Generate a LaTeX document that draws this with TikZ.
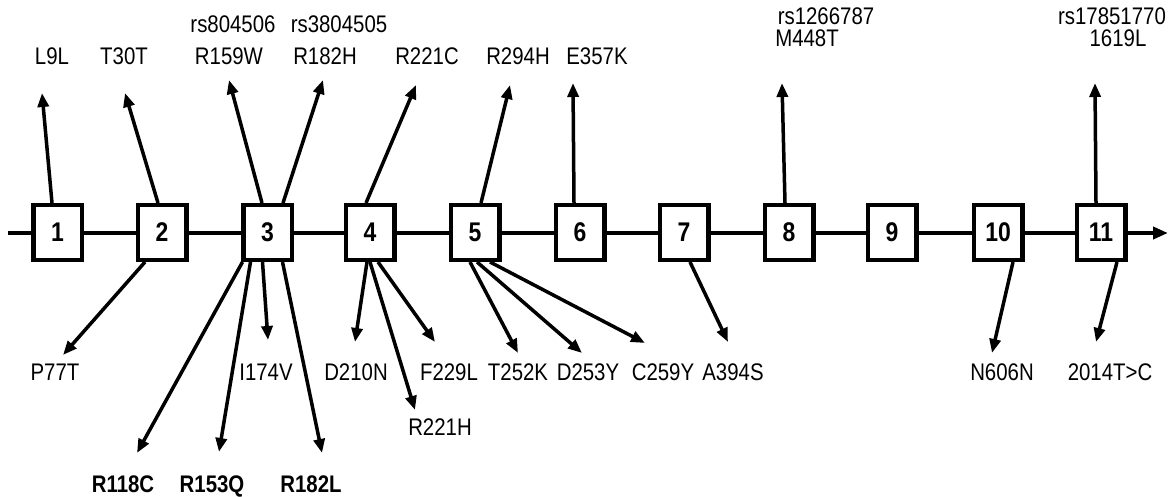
\documentclass[tikz,border=0pt]{standalone}
\usepackage{fontspec}
\setmainfont{Liberation Sans}[FakeStretch=0.85]
\usetikzlibrary{arrows.meta}
\begin{document}
\begin{tikzpicture}[x=1pt,y=-1pt,
  box/.style={draw,line width=4.5pt,fill=white,minimum width=48.5pt,minimum height=54.5pt,inner sep=0pt,font=\fontsize{27}{30}\selectfont\bfseries},
  lab/.style={anchor=base,inner sep=0pt,font=\fontsize{24}{28}\selectfont},
  blab/.style={anchor=base,inner sep=0pt,font=\fontsize{24}{28}\selectfont\bfseries},
  conn/.style={line width=3.5pt,-{Triangle[length=14pt,width=11pt]}},
  mainline/.style={line width=4pt,-{Triangle[length=15pt,width=12pt]}}]
\useasboundingbox (0,0) rectangle (1172,497);
% main line
\coordinate (ls) at (8,233);
\coordinate (le) at (1168,233);
\draw[mainline] (ls) -- (le);
% boxes
\node[box] (b1) at (57.5,232.5) {1};
\node[box] (b2) at (162,232.5) {2};
\node[box] (b3) at (267.5,232.5) {3};
\node[box] (b4) at (370,232.5) {4};
\node[box] (b5) at (475,232.5) {5};
\node[box] (b6) at (580,232.5) {6};
\node[box] (b7) at (684,232.5) {7};
\node[box] (b8) at (789,232.5) {8};
\node[box] (b9) at (892,232.5) {9};
\node[box] (b10) at (998,232.5) {10};
\node[box] (b11) at (1101,232.5) {11};
% top tips
\coordinate (t1) at (42,93);
\coordinate (t2) at (125,93);
\coordinate (t3a) at (229,80);
\coordinate (t3b) at (323,80);
\coordinate (t4) at (416,85);
\coordinate (t5) at (510,85);
\coordinate (t6) at (573,83);
\coordinate (t8) at (782,83);
\coordinate (t11) at (1095,83);
% bottom tips
\coordinate (p2) at (63,355);
\coordinate (p3a) at (137,453);
\coordinate (p3b) at (219,452);
\coordinate (p3c) at (268,340);
\coordinate (p3d) at (322,453);
\coordinate (p4a) at (355,342);
\coordinate (p4b) at (415,410);
\coordinate (p4c) at (435,342);
\coordinate (p5a) at (518,353);
\coordinate (p5b) at (582,353);
\coordinate (p5c) at (645,343);
\coordinate (p7) at (728,342);
\coordinate (p10) at (992,353);
\coordinate (p11) at (1096,342);
% top connectors
\draw[conn] ([xshift=-5.5pt]b1.north) -- (t1);
\draw[conn] ([xshift=-4pt]b2.north) -- (t2);
\draw[conn] ([xshift=-5.5pt]b3.north) -- (t3a);
\draw[conn] ([xshift=15.5pt]b3.north) -- (t3b);
\draw[conn] ([xshift=-4pt]b4.north) -- (t4);
\draw[conn] ([xshift=6pt]b5.north) -- (t5);
\draw[conn] ([xshift=-6pt]b6.north) -- (t6);
\draw[conn] ([xshift=-4pt]b8.north) -- (t8);
\draw[conn] ([xshift=-5pt]b11.north) -- (t11);
% bottom connectors
\draw[conn] ([xshift=-17pt]b2.south) -- (p2);
\draw[conn] ([xshift=-25pt]b3.south) -- (p3a);
\draw[conn] ([xshift=-17pt]b3.south) -- (p3b);
\draw[conn] ([xshift=-5pt]b3.south) -- (p3c);
\draw[conn] ([xshift=15pt]b3.south) -- (p3d);
\draw[conn] ([xshift=-3pt]b4.south) -- (p4a);
\draw[conn] ([xshift=0pt]b4.south) -- (p4b);
\draw[conn] ([xshift=8pt]b4.south) -- (p4c);
\draw[conn] ([xshift=-5pt]b5.south) -- (p5a);
\draw[conn] ([xshift=2pt]b5.south) -- (p5b);
\draw[conn] ([xshift=15pt]b5.south) -- (p5c);
\draw[conn] ([xshift=6pt]b7.south) -- (p7);
\draw[conn] ([xshift=15pt]b10.south) -- (p10);
\draw[conn] ([xshift=16pt]b11.south) -- (p11);
% top labels
\node[lab] (l1) at (52,65) {L9L};
\node[lab] (l2) at (124,65) {T30T};
\node[lab] (l3a) at (229,65) {R159W};
\node[lab] (r3a) at (233,33) {rs804506};
\node[lab] (l3b) at (325,65) {R182H};
\node[lab] (r3b) at (339,33) {rs3804505};
\node[lab] (l4) at (427,65) {R221C};
\node[lab] (l5) at (518,65) {R294H};
\node[lab] (l6) at (597,65) {E357K};
\node[lab] (r8) at (826,25) {rs1266787};
\node[lab] (l8) at (807,47) {M448T};
\node[lab] (r11) at (1112,25) {rs17851770};
\node[lab] (l11) at (1118,47) {1619L};
% bottom labels
\node[lab] (q2) at (55,380) {P77T};
\node[lab] (q3c) at (266,380) {I174V};
\node[lab] (q4a) at (356,380) {D210N};
\node[lab] (q4c) at (449,380) {F229L};
\node[lab] (q5a) at (518,380) {T252K};
\node[lab] (q5b) at (588,380) {D253Y};
\node[lab] (q5c) at (663,380) {C259Y};
\node[lab] (q7) at (733,380) {A394S};
\node[lab] (q10) at (1002,380) {N606N};
\node[lab] (q11) at (1110,380) {2014T>C};
\node[lab] (q4b) at (440,435) {R221H};
\node[blab] (q3a) at (123,492) {R118C};
\node[blab] (q3b) at (212,492) {R153Q};
\node[blab] (q3d) at (311,492) {R182L};
\end{tikzpicture}
\end{document}
